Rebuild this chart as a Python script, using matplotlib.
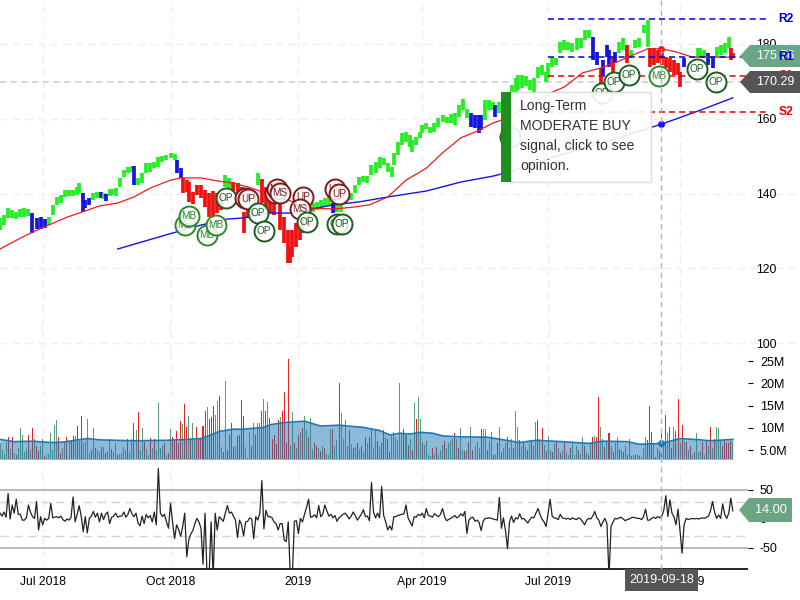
import matplotlib
matplotlib.use('Agg')
import matplotlib.pyplot as plt
from matplotlib.patches import Polygon, Rectangle

plt.rcParams['font.family'] = ['Liberation Sans', 'DejaVu Sans']

# Price bars, sampled about every second trading day
price_days = [0, 2, 4, 6, 8, 10, 12, 14, 16, 18,
              20, 22, 24, 26, 28, 30, 32, 34, 36, 38,
              39, 41, 42, 44, 46, 48, 50, 51, 52, 54,
              55, 57, 59, 61, 63, 65, 66, 68, 70, 72,
              74, 76, 78, 80, 82, 84, 86, 87, 89, 90,
              92, 93, 95, 97, 99, 101, 103, 105, 107, 109,
              111, 113, 115, 117, 119, 120, 122, 124, 127, 129,
              131, 133, 135, 138, 140, 142, 143, 144, 146, 148,
              149, 152, 154, 156, 158, 160, 162, 164, 165, 166,
              168, 173, 175, 177, 179, 181, 183, 185, 187, 189,
              191, 193, 194, 196, 198, 200, 202, 203, 205, 207,
              208, 210, 212, 214, 216, 218, 220, 222, 224, 226,
              228, 230, 232, 234, 236, 237, 239, 241, 243, 244,
              246, 248, 250, 252, 254, 255, 257, 259, 261, 263,
              265, 267, 269, 270, 272, 274, 276, 278, 280, 282,
              284, 286, 288, 290, 292, 294, 296, 297, 299, 300,
              302, 303, 305, 307, 309, 311, 313, 315, 317, 319,
              320, 322, 324, 326, 328, 330, 332, 334, 335, 337,
              344, 345, 347, 349, 351, 353, 355, 357, 359, 360,
              361]
price_high = [133.5, 134.3, 136.1, 135.6, 135.1, 135.9, 136.1, 135.9, 134.8, 133.5,
              133.8, 133.2, 133.8, 137.0, 139.1, 139.6, 141.0, 141.0, 141.0, 141.8,
              142.8, 140.2, 138.3, 138.8, 140.2, 140.4, 140.4, 140.2, 140.0, 141.2,
              141.2, 141.5, 144.2, 146.3, 147.1, 147.4, 147.4, 144.2, 145.5, 148.2,
              148.2, 148.4, 149.8, 150.0, 150.3, 150.8, 150.6, 149.0, 146.8, 144.2,
              143.6, 143.1, 140.4, 142.3, 142.3, 141.0, 140.2, 140.7, 140.2, 139.6,
              145.0, 144.2, 143.1, 142.8, 141.8, 135.1, 138.8, 136.4, 145.5, 143.9,
              141.8, 140.2, 139.6, 137.5, 133.8, 130.3, 125.7, 130.3, 132.1, 132.4,
              133.8, 133.0, 137.5, 137.8, 138.3, 138.8, 139.1, 137.5, 137.0, 137.0,
              137.0, 140.2, 142.3, 144.4, 144.7, 144.7, 147.6, 148.4, 149.8, 149.5,
              148.2, 147.1, 150.8, 153.8, 156.2, 156.5, 155.7, 154.3, 155.1, 156.5,
              158.3, 158.9, 157.8, 158.9, 160.2, 161.0, 160.5, 161.3, 161.5, 163.7,
              165.3, 162.6, 161.5, 161.0, 161.0, 161.0, 165.0, 165.0, 164.5, 163.7,
              164.5, 165.0, 166.4, 169.0, 170.9, 171.7, 171.7, 171.4, 170.4, 170.9,
              173.9, 174.4, 172.5, 174.9, 176.5, 176.2, 180.5, 181.1, 180.5, 180.3,
              181.6, 181.6, 183.7, 183.7, 181.9, 177.9, 173.6, 175.7, 179.7, 178.4,
              176.5, 177.9, 180.5, 181.6, 179.7, 178.4, 181.1, 181.6, 185.1, 186.4,
              178.9, 178.9, 178.4, 177.6, 176.5, 176.2, 175.7, 174.9, 172.5, 176.2,
              178.9, 178.9, 178.4, 177.6, 176.5, 179.2, 179.7, 180.3, 181.9, 178.9,
              177.6]
price_low = [130.3, 131.6, 133.5, 133.5, 133.2, 133.8, 133.8, 134.0, 129.5, 130.5,
             130.5, 130.8, 131.6, 134.3, 137.0, 137.5, 139.1, 139.4, 139.4, 139.6,
             140.2, 135.1, 136.1, 137.0, 138.3, 138.8, 138.8, 138.5, 137.9, 139.4,
             139.6, 139.4, 141.8, 144.4, 145.5, 145.8, 142.3, 142.3, 142.8, 145.5,
             145.8, 146.8, 147.1, 148.4, 149.0, 149.5, 149.0, 145.5, 144.2, 140.2,
             140.4, 137.8, 137.2, 139.6, 138.8, 136.4, 133.8, 133.5, 134.8, 135.6,
             141.8, 141.5, 140.4, 139.6, 139.6, 129.5, 133.5, 133.8, 142.3, 137.5,
             135.6, 134.8, 134.3, 130.3, 126.8, 121.4, 121.4, 123.0, 125.7, 127.6,
             129.5, 131.0, 135.1, 135.6, 136.1, 136.4, 137.0, 134.8, 135.1, 135.1,
             135.1, 138.3, 140.2, 142.3, 143.1, 142.8, 145.0, 145.5, 146.8, 147.6,
             145.8, 144.4, 147.6, 150.3, 153.0, 153.8, 152.5, 151.1, 153.0, 154.9,
             156.2, 157.3, 156.2, 156.5, 157.8, 159.1, 158.9, 158.9, 158.3, 160.5,
             162.3, 160.2, 157.8, 157.5, 156.2, 157.0, 159.7, 162.3, 162.3, 160.5,
             161.5, 162.3, 163.7, 165.6, 167.2, 167.7, 168.2, 168.8, 167.7, 167.2,
             170.9, 171.7, 169.8, 170.9, 173.9, 174.4, 177.6, 178.4, 178.4, 177.9,
             178.4, 178.9, 181.1, 181.6, 175.7, 174.4, 169.6, 171.2, 176.5, 173.9,
             172.2, 174.9, 177.6, 178.4, 174.9, 176.2, 178.9, 179.2, 183.0, 179.2,
             173.9, 174.4, 174.9, 174.4, 173.6, 172.5, 171.7, 171.7, 168.5, 173.9,
             176.5, 176.5, 176.5, 174.4, 173.6, 176.5, 177.1, 177.6, 178.9, 175.7,
             176.2]
# g = up trend, b = neutral, r = down trend
price_trend = ('ggggggggbb' 'bbgggggggg' 'gbbbggbgbg' 'ggggggbggg' 'gggggggbbr'
               'rrrrrrrrrr' 'ggrrrrrrgr' 'rrrrrrrrrr' 'rrgggggbbg' 'gggggggggg'
               'gggggggggg' 'gggggggggg' 'ggbbbbgggb' 'gggggggggg' 'gggggggggg'
               'ggggbbrbbb' 'rbggrggggg' 'rrrrrrrrrb' 'gggbbggggr' 'r')

# Moving averages
fast_ma_days = [0, 10, 16, 33, 49, 58, 66, 74, 84, 89, 99, 107, 115, 122, 128, 154, 165,
                174, 182, 191, 200, 210, 218, 227, 235, 243, 250, 261, 271, 278, 287,
                296, 304, 312, 319, 326, 333, 341, 351, 361]
fast_ma = [125.2, 128.1, 129.7, 133.7, 136.7, 137.5, 139.1, 141.5, 143.6, 144.2, 144.2,
           143.4, 142.8, 141.8, 140.7, 136.1, 135.9, 136.4, 137.0, 139.1, 143.6, 146.8,
           150.9, 154.9, 156.7, 158.9, 160.2, 163.7, 166.9, 168.5, 172.3, 173.6, 175.2,
           177.1, 178.7, 178.7, 177.9, 176.5, 176.5, 176.5]
slow_ma_days = [58, 82, 99, 112, 120, 133, 144, 164, 177, 191, 210, 227, 243, 251, 271,
                296, 312, 326, 345, 361]
slow_ma = [125.2, 129.0, 131.6, 133.2, 133.5, 134.8, 134.8, 137.0, 137.8, 139.1, 140.7,
           143.1, 144.7, 145.8, 149.5, 153.5, 156.2, 158.6, 162.3, 165.6]

# Pivot levels
pivot_names = ['R2', 'R1', 'S1', 'S2']
pivot_values = [186.7, 176.5, 171.4, 161.9]
pivot_colors = ['#0000ee', '#0000ee', '#ee0000', '#ee0000']

# Opinion badges
signal_days = [91, 93, 102, 106.4, 111.3, 120.7, 122.2, 127.1, 130, 135.5, 136.5, 138,
               149.3, 147.8, 151.2, 165, 167, 166, 168.5, 251.2, 296.6, 302.5, 309.9,
               324.6, 343.3, 352.7]
signal_prices = [131.6, 134.0, 128.9, 131.6, 138.8, 138.8, 138.6, 134.8, 130.0, 140.2,
                 141.2, 140.2, 139.1, 135.9, 132.4, 141.2, 139.9, 131.9, 131.9, 155.1,
                 166.9, 169.8, 171.7, 171.4, 173.3, 169.8]
signal_labels = ['MB', 'MB', 'MB', 'MB', 'OP', 'UP', 'UP', 'OP', 'OP', 'MS', 'MS', 'MS',
                 'UP', 'MS', 'OP', 'UP', 'UP', 'OP', 'OP', 'OP', 'OP', 'OP', 'OP', 'MB',
                 'OP', 'OP']
signal_colors = {'MB': '#2a8a2a', 'OP': '#1b5e20', 'UP': '#7b1c1c', 'MS': '#7b1c1c'}

# Daily volume in millions
volume = [6.5, 5.0, 4.2, 6.8, 8.0, 5.2, 7.9, 4.4, 3.8, 5.5, 9.9, 8.5, 4.6, 5.2, 8.5, 5.0, 9.9, 7.6, 6.0, 4.8,
          5.9, 7.4, 3.6, 4.0, 4.2, 8.8, 5.0, 10.6, 11.8, 7.9, 4.4, 5.5, 6.9, 7.9, 6.8, 7.2, 8.2, 8.2, 10.4, 7.0,
          12.7, 6.5, 7.0, 12.1, 4.4, 5.0, 9.9, 5.5, 5.0, 4.5, 5.8, 5.6, 4.3, 4.8, 7.6, 5.2, 4.5, 6.6, 3.8, 4.2,
          4.4, 5.7, 5.0, 7.6, 4.5, 7.6, 11.2, 9.5, 13.5, 5.0, 9.9, 6.8, 5.2, 4.0, 7.7, 5.5, 7.4, 5.0, 15.5, 5.5,
          6.2, 6.5, 3.8, 4.3, 9.7, 7.9, 7.0, 9.3, 6.5, 11.5, 10.9, 15.3, 10.1, 12.7, 7.2, 11.0, 7.5, 10.1, 7.6, 7.5,
          10.4, 13.7, 14.8, 11.9, 12.5, 15.0, 13.0, 16.0, 17.1, 5.6, 4.5, 20.5, 5.0, 8.4, 11.2, 5.8, 6.0, 8.2, 8.4, 16.2,
          12.7, 5.6, 3.3, 9.0, 6.0, 11.0, 8.4, 11.2, 11.2, 13.9, 16.4, 13.9, 15.7, 12.3, 7.6, 8.3, 6.3, 11.7, 12.5, 13.7,
          18.0, 6.5, 25.5, 6.0, 13.5, 6.5, 5.4, 8.5, 9.0, 10.0, 12.7, 9.5, 8.0, 12.3, 5.2, 6.6, 6.0, 5.5, 4.8, 6.0,
          5.5, 4.2, 4.0, 9.7, 9.7, 6.0, 7.2, 20.0, 13.3, 7.5, 11.7, 6.0, 9.5, 6.3, 5.5, 5.8, 6.5, 5.3, 6.0, 4.5,
          8.0, 6.5, 8.0, 9.5, 5.6, 9.6, 7.0, 5.8, 6.6, 9.5, 8.0, 7.5, 4.5, 8.5, 9.0, 8.0, 7.2, 20.0, 8.6, 9.7,
          8.5, 6.2, 7.5, 5.0, 15.5, 12.1, 16.9, 12.1, 6.5, 6.2, 7.0, 4.0, 3.7, 5.5, 4.3, 5.8, 4.0, 5.0, 6.2, 7.0,
          5.5, 6.5, 7.0, 7.5, 8.8, 7.5, 5.5, 9.9, 5.0, 4.8, 5.0, 6.8, 10.3, 5.0, 6.0, 6.8, 5.5, 9.7, 9.7, 9.7,
          5.0, 7.0, 9.0, 4.0, 4.2, 6.5, 10.2, 4.5, 5.5, 6.5, 7.9, 5.5, 7.6, 5.5, 13.7, 10.3, 7.2, 6.0, 6.5, 5.6,
          5.0, 6.5, 7.2, 6.0, 11.4, 11.7, 7.5, 9.9, 6.2, 4.8, 8.2, 5.0, 4.5, 6.5, 7.0, 5.5, 4.3, 5.0, 6.8, 4.5,
          3.8, 5.5, 6.7, 4.0, 6.0, 5.0, 4.2, 8.0, 6.0, 4.6, 4.0, 6.5, 7.9, 8.2, 8.0, 16.9, 10.1, 7.5, 5.8, 7.0,
          8.8, 6.0, 4.5, 6.5, 8.0, 5.2, 5.0, 4.5, 6.0, 4.0, 7.6, 3.6, 4.0, 3.9, 4.2, 3.7, 3.4, 5.5, 7.9, 7.2,
          15.0, 9.0, 6.5, 3.5, 5.5, 4.8, 9.5, 6.0, 12.8, 8.8, 10.3, 5.5, 10.3, 9.2, 16.4, 6.5, 10.6, 7.0, 6.8, 5.0,
          6.0, 4.0, 4.5, 8.8, 4.5, 4.8, 6.8, 4.0, 7.0, 6.0, 10.1, 5.5, 7.5, 10.1, 9.9, 7.0, 6.0, 7.2, 6.5, 6.6, 7.0, 6.8]
down_days = [4, 6, 8, 14, 16, 18, 19, 22, 29, 30, 33, 35, 36, 38, 40, 45, 47, 50, 52, 55, 58, 63, 66, 68,
             71, 74, 76, 81, 83, 85, 86, 87, 88, 89, 91, 92, 94, 97, 98, 99, 100, 101, 103, 104, 105, 108,
             110, 112, 113, 114, 115, 117, 118, 119, 120, 122, 124, 126, 129, 131, 133, 134, 135, 136, 137,
             139, 140, 141, 142, 145, 147, 149, 152, 155, 156, 158, 160, 164, 167, 172, 174, 176, 178, 180,
             182, 186, 188, 189, 191, 192, 199, 201, 203, 205, 208, 213, 215, 219, 224, 226, 229, 231, 233,
             237, 240, 243, 245, 247, 250, 253, 256, 258, 260, 262, 265, 267, 269, 272, 274, 276, 278, 281,
             285, 288, 290, 292, 294, 295, 298, 300, 302, 305, 307, 309, 311, 313, 315, 319, 320, 321, 323,
             325, 326, 328, 330, 331, 333, 334, 336, 338, 340, 342, 346, 348, 350, 352, 356, 357, 358, 359, 360]
volume_ma_days = [0, 7, 16, 25, 31, 43, 49, 57, 66, 82, 92, 99, 105, 108, 115, 120, 125, 130, 133,
                  140, 144, 150, 158, 167, 179, 187, 192, 197, 202, 207, 213, 218, 225, 240, 248,
                  256, 264, 277, 290, 297, 309, 315, 326, 335, 345, 350, 361]
volume_ma = [7.4, 6.9, 7.0, 6.7, 6.8, 7.6, 7.3, 7.2, 7.1, 7.2, 7.4, 7.6, 8.6, 9.2, 9.7, 9.7, 9.9, 10.1,
             10.7, 11.2, 11.3, 11.5, 10.4, 10.6, 10.1, 9.4, 8.4, 8.8, 8.6, 9.0, 8.8, 8.2, 8.0, 7.9, 7.3,
             6.7, 7.2, 6.9, 6.5, 7.0, 6.9, 6.3, 6.5, 7.6, 7.3, 7.1, 7.4]

# CCI oscillator, one value per day
cci = [10, 5, 12, 3, 44, 0, 24, 10, 34, 8, 8, -2, -2, 2, 24, 12, 4, 1, 30, -19,
       4, -10, 1, -2, 1, 27, 2, 3, 4, 2, 5, -1, -4, 0, -2, 3, 38, -5, 8, 23,
       5, -22, 4, -24, 1, 5, 13, 3, 10, -5, 10, -1, 8, 12, -8, 3, 5, 10, 3, 5,
       5, 12, 3, 8, 18, 9, 4, 10, -7, -12, 5, -8, 8, 2, 6, -5, 12, -10, 87, 10,
       4, 8, -5, -16, 27, -5, -34, -10, -18, -30, -13, 10, -65, -36, -26, -20, -8, 1, -5, -16,
       -78, 10, -100, -100, -5, -100, 10, -19, 4, 0, -4, 10, 23, 10, 12, 5, -2, -32, -2, -10,
       -29, -5, -4, 2, 0, -34, 4, -2, 10, 66, -17, 15, 4, 4, 2, -5, -8, -19, -8, -8,
       -36, -39, -5, -100, -100, -4, -3, -25, 1, -5, 8, 20, 34, 3, 4, 7, 2, 23, 4, 8,
       24, 14, 5, 8, 2, 6, -4, 2, 5, 8, 10, 6, 0, 5, 12, 6, -2, 3, 8, 16,
       4, 5, -3, 63, 12, 2, 10, 2, 56, 6, -5, -19, -12, -19, 4, 4, 6, 7, 8, 9,
       24, 2, -5, -12, 4, 3, 8, 6, 10, 2, 18, 6, 5, 3, 9, 6, 4, 8, 18, 4,
       -3, -1, 1, 3, 6, 2, 4, 9, 5, 13, -25, -2, 2, 3, -4, -2, -6, -20, -4, 1,
       1, 2, 1, 0, -1, -2, 37, -16, 2, -20, -51, -5, 5, -6, 2, 0, 9, 0, 1, -3,
       -7, -1, 3, 2, 10, 18, 8, 0, -5, -13, 10, 34, 5, 2, 1, -1, 8, 2, 1, 0,
       1, -1, 2, 0, -1, 2, 0, -5, -10, -2, 1, 0, 5, 13, 2, -2, -13, -5, 1, -8,
       -100, -13, -5, 1, 0, 2, 3, 0, -3, -1, 0, 2, 3, 2, 1, 1, -1, 4, 17, -2,
       -2, 1, 3, 1, 4, 2, 5, 15, 40, 4, 33, 10, 4, -10, 17, -20, -59, -10, 1, -1,
       0, 1, 0, 1, 0, 1, 2, 1, 3, 5, 14, 30, 12, 1, 7, 1, 26, 8, 1, 10, 36, 14]

# Axis labels
date_ticks = [21, 84, 147, 208, 270, 335]
date_labels = ['Jul 2018', 'Oct 2018', '2019', 'Apr 2019', 'Jul 2019', 'Oct 2019']
price_ticks = [100, 120, 140, 160, 180]
volume_ticks = [5, 10, 15, 20, 25]
volume_labels = ['5.0M', '10M', '15M', '20M', '25M']
cci_ticks = [-50, 0, 50]
cci_labels = ['-50', '0', '50']

cursor_day = 325.6
cursor_price = 169.9

W, H = 800, 600
fig = plt.figure(figsize=(8, 6), dpi=100)


def pane(top, bottom):
    a = fig.add_axes([0, 1 - bottom / H, 1, (bottom - top) / H])
    a.set_xlim(0, W / 2.03)
    a.patch.set_alpha(0)
    for s in a.spines.values():
        s.set_visible(False)
    a.set_xticks(date_ticks)
    a.set_xticklabels([])
    a.tick_params(axis='x', length=0)
    a.yaxis.tick_right()
    a.tick_params(axis='y', length=0, labelsize=8.7)
    a.grid(axis='x', color='#eeeeee', linestyle=(0, (6, 4)), linewidth=0.9)
    a.set_axisbelow(True)
    return a


# ---- price pane
ax = pane(0, 350)
ax.set_ylim(98.2, 191.76)
ax.set_yticks(price_ticks)
ax.set_yticklabels(price_ticks, ha='left')
ax.tick_params(axis='y', pad=-31.7)
ax.grid(axis='y', color='#eeeeee', linestyle=(0, (6, 4)), linewidth=0.9)
ax.axhline(cursor_price, color='#cccccc', linestyle=(0, (4, 3)), linewidth=1.1)

trend_colors = {'g': '#22ee22', 'b': '#1515e0', 'r': '#f01010'}
ax.vlines(price_days, price_low, price_high, colors=[trend_colors[c] for c in price_trend],
          linewidth=2.7, zorder=3)
ax.plot(slow_ma_days, slow_ma, color='#1515e0', linewidth=1.0, zorder=4)
ax.plot(fast_ma_days, fast_ma, color='#ee1c1c', linewidth=0.9, zorder=4)
ax.plot([cursor_day], [178.7], 'o', color='#ee1c1c', markersize=4, zorder=4)
ax.plot([cursor_day], [158.6], 'o', color='#1515e0', markersize=4, zorder=4)

for name, value, color in zip(pivot_names, pivot_values, pivot_colors):
    ax.hlines(value, 270, 379, colors=color, linestyle=(0, (4, 2.6)), linewidth=1.1, zorder=5)

for i, (d, p, label) in enumerate(zip(signal_days, signal_prices, signal_labels)):
    color = signal_colors[label]
    ax.plot([d], [p], 'o', markersize=14.4, markerfacecolor=(1, 1, 1, 0.85),
            markeredgecolor=color, markeredgewidth=1.4, zorder=6 + i * 0.01)
    ax.text(d, p, label, color=color, fontsize=7.2, ha='center', va='center',
            zorder=6 + i * 0.01 + 0.005)

# ---- volume pane
vax = pane(350, 459)
vax.set_ylim(3, 27.5)
vax.set_yticks(volume_ticks)
vax.set_yticklabels(volume_labels, ha='left', fontsize=9)
vax.tick_params(axis='y', pad=-28.8)
bar_days = list(range(len(volume)))
bar_colors = ['#e62222' if d in down_days else '#5a9e78' for d in bar_days]
vax.bar(bar_days, volume, width=0.5, color=bar_colors, zorder=2)
vax.fill_between(volume_ma_days, volume_ma, 0, color='#1f77b4', alpha=0.5, linewidth=0, zorder=3)
vax.plot(volume_ma_days, volume_ma, color='#1f77b4', linewidth=1.2, zorder=4)
vax.plot([cursor_day], [6.5], 'o', color='#1f77b4', markersize=4, zorder=4)
vax.hlines(volume_ticks, 748 / W, 753 / W, colors='black', linewidth=0.8,
           transform=vax.get_yaxis_transform())

# ---- cci pane
cax = pane(465, 569)
cax.set_ylim(-86.2, 93)
cax.set_yticks(cci_ticks)
cax.set_yticklabels(cci_labels, ha='left', fontsize=9)
cax.tick_params(axis='y', pad=-28.8)
cax.set_xticklabels(date_labels, fontsize=8.7)
cax.tick_params(axis='x', pad=5)
cax.hlines([-50, 50], 0, 748 / W, colors='#b4b4b4', linewidth=1.3,
           transform=cax.get_yaxis_transform())
cax.hlines([-30, 30], 0, 748 / W, colors='#d4d4d4', linestyle=(0, (6, 4)), linewidth=1.0,
           transform=cax.get_yaxis_transform())
cax.plot(range(len(cci)), cci, color='#222222', linewidth=0.9, zorder=3)
cax.hlines([-50, 50], 748 / W, 753 / W, colors='black', linewidth=0.8,
           transform=cax.get_yaxis_transform())
cax.hlines(-86.2, 0, 748 / W, colors='black', linewidth=1.2, clip_on=False,
           transform=cax.get_yaxis_transform())

# ---- overlay in pixel coordinates: cursor, value tags, tooltip
top = fig.add_axes([0, 0, 1, 1], zorder=10)
top.set_xlim(0, W)
top.set_ylim(H, 0)
top.axis('off')
top.vlines(2.03 * cursor_day, 0, 569, colors='#b4b4b4', linestyle=(0, (4, 3)),
           linewidth=1.0, zorder=1)


def tag(x0, x1, y0, y1, color, text, z, size=9.0):
    ym = (y0 + y1) / 2
    top.add_patch(Polygon([(x0, ym), (x0 + 10, y0), (x1, y0), (x1, y1), (x0 + 10, y1)],
                          closed=True, facecolor=color, edgecolor='none', zorder=z))
    top.text(x0 + 10 + (x1 - x0 - 10) / 2, ym, text, color='white', fontsize=size,
             ha='center', va='center', zorder=z + 0.1)


tag(740, 800, 45, 67, '#6ba583', '175.76', 3)
for name, value, color in zip(pivot_names, pivot_values, pivot_colors):
    top.text(387, value, name, color=color, fontsize=8.7, fontweight='bold', ha='center',
             va='center', transform=ax.transData, zorder=4)
tag(740, 800, 71, 93, '#555555', '170.29', 5)
tag(739, 792, 498, 522, '#6ba583', '14.00', 5, size=9.2)

top.add_patch(Rectangle((625, 569), 73, 22, facecolor='#555555', edgecolor='none', zorder=5))
top.text(661.5, 580, '2019-09-18', color='white', fontsize=9.1, ha='center', va='center', zorder=6)

top.add_patch(Rectangle((511, 92), 140, 90, facecolor=(1, 1, 1, 0.9), edgecolor='#dddddd',
                        linewidth=1, zorder=5))
top.add_patch(Rectangle((501, 92), 10, 90, facecolor='#1a8a1a', alpha=0.97, edgecolor='none', zorder=6))
tooltip_lines = ['Long-Term', 'MODERATE BUY', 'signal, click to see', 'opinion.']
for i, line in enumerate(tooltip_lines):
    top.text(520, 106 + 20 * i, line, color='#333333', fontsize=10.1, va='center', zorder=7)

fig.savefig('out.png', dpi=100)
